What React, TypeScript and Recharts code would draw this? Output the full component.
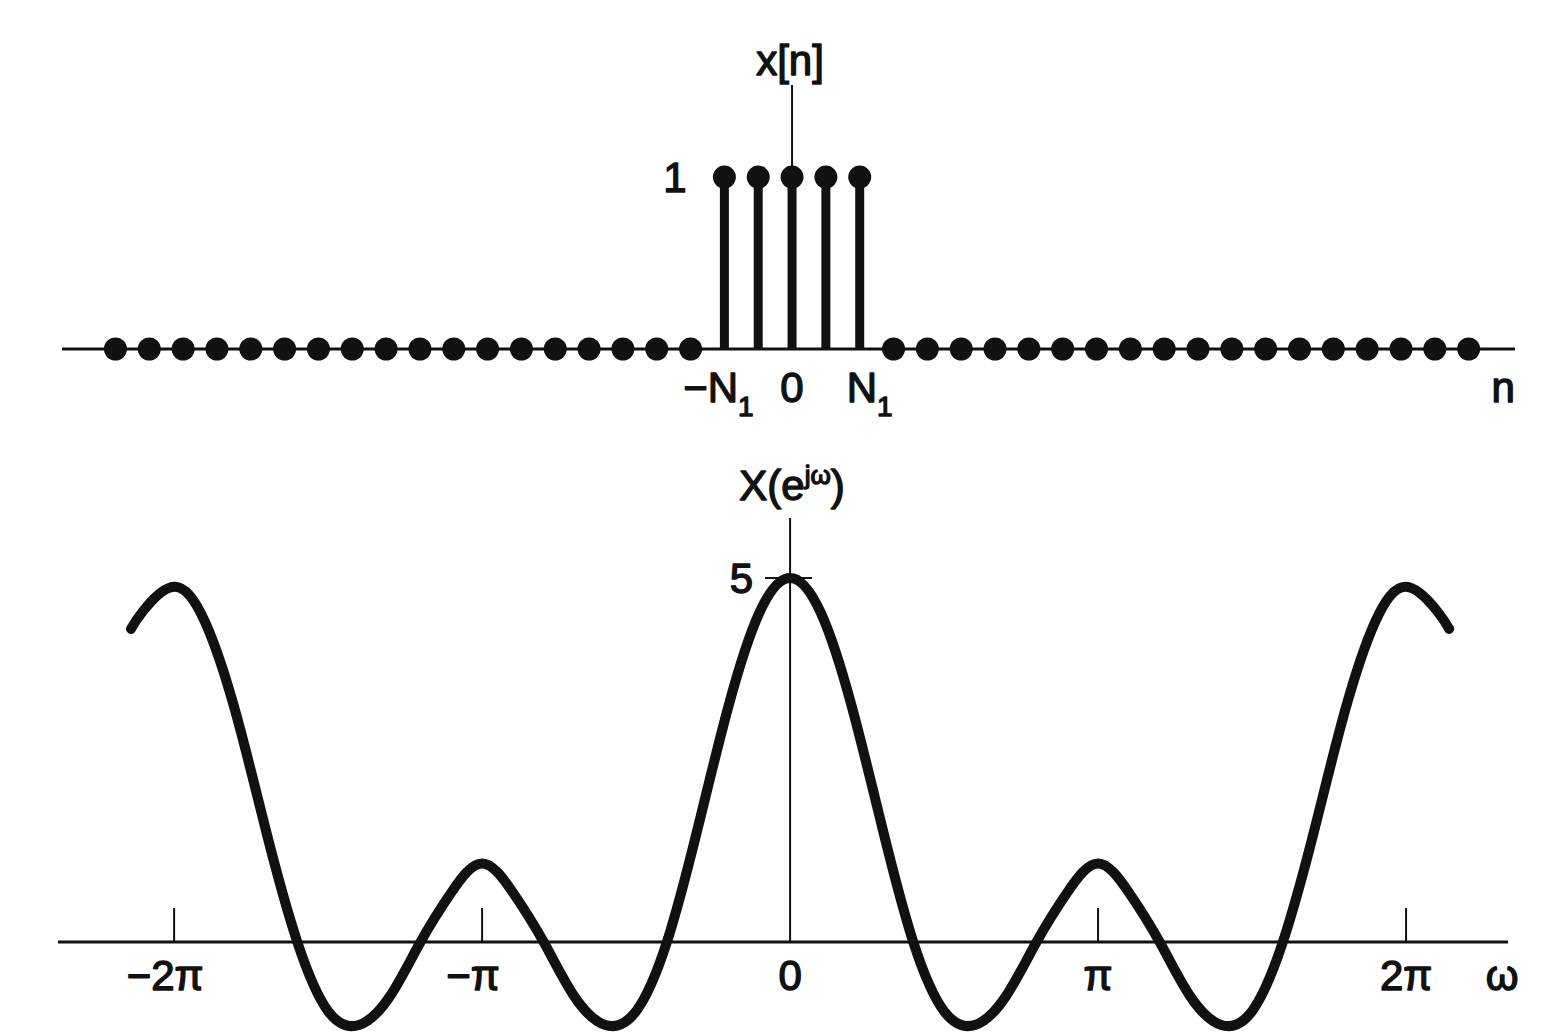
import {
  ComposedChart,
  LineChart,
  Line,
  Scatter,
  XAxis,
  YAxis,
  ReferenceLine,
  ReferenceDot,
} from 'recharts';

const FONT = '"Liberation Sans", Arial, Helvetica, sans-serif';
const INK = '#111';

// x[n]: rectangular pulse with N1 = 2
const sampleIndex = [
  -20, -19, -18, -17, -16, -15, -14, -13, -12, -11, -10, -9, -8, -7, -6, -5, -4, -3, -2, -1, 0,
  1, 2, 3, 4, 5, 6, 7, 8, 9, 10, 11, 12, 13, 14, 15, 16, 17, 18, 19, 20,
];
const pulseValues = [
  0, 0, 0, 0, 0, 0, 0, 0, 0, 0, 0, 0, 0, 0, 0, 0, 0, 0, 1, 1, 1,
  1, 1, 0, 0, 0, 0, 0, 0, 0, 0, 0, 0, 0, 0, 0, 0, 0, 0, 0, 0,
];
const pulseTicks = [-2, 0, 2];
const pulseTickLabels = [
  { main: '−N', sub: '1', dx: -6 },
  { main: '0', sub: '', dx: 0 },
  { main: 'N', sub: '1', dx: 10 },
];

// X(e^jω) read along ω/π
const omegaOverPi = [
  -2.14, -2.1, -2.0, -1.9, -1.8, -1.7, -1.6, -1.5, -1.4, -1.3, -1.2, -1.1, -1.0, -0.9, -0.8,
  -0.7, -0.6, -0.5, -0.4, -0.3, -0.2, -0.1, 0, 0.1, 0.2, 0.3, 0.4, 0.5, 0.6, 0.7, 0.8, 0.9,
  1.0, 1.1, 1.2, 1.3, 1.4, 1.5, 1.6, 1.7, 1.8, 1.9, 2.0, 2.1, 2.14,
];
const spectrumValues = [
  4.3, 4.55, 4.88, 4.4, 3.15, 1.5, 0, -0.95, -1.14, -0.75, 0, 0.68, 1.08, 0.68, 0,
  -0.75, -1.14, -0.95, 0, 1.56, 3.24, 4.52, 5, 4.52, 3.24, 1.56, 0, -0.95, -1.14, -0.75, 0, 0.68,
  1.08, 0.68, 0, -0.75, -1.14, -0.95, 0, 1.5, 3.15, 4.4, 4.88, 4.55, 4.3,
];
const omegaTicks = [-2, -1, 0, 1, 2];
const omegaTickLabels = ['−2π', '−π', '0', 'π', '2π'];
const peakValue = 5;

const pulseData = sampleIndex.map((n, i) => ({ n, v: pulseValues[i] }));
const spectrumData = omegaOverPi.map((w, i) => ({ w, X: spectrumValues[i] }));

// printed-looking labels: regular face with a thin outline to thicken the strokes
const textStyle = {
  fontFamily: FONT,
  fontSize: 42,
  fill: INK,
  stroke: INK,
  strokeWidth: 1.4,
  strokeLinejoin: 'round' as const,
};

// plain text placed relative to the centre of a reference's viewBox
const centredText =
  (text: string, dx = 0, dy = 0, anchor: 'start' | 'middle' | 'end' = 'middle') =>
  (props: any) => {
    const vb = props.viewBox || {};
    const cx = (vb.x ?? 0) + (vb.width ?? 0) / 2;
    const cy = (vb.y ?? 0) + (vb.height ?? 0) / 2;
    return (
      <text x={cx + dx} y={cy + dy} textAnchor={anchor} style={textStyle}>
        {text}
      </text>
    );
  };

const PulseTick = (props: any) => {
  const { x, y, index } = props;
  const lab = pulseTickLabels[index] || pulseTickLabels[1];
  return (
    <text x={x + lab.dx} y={y + 53} textAnchor="middle" style={textStyle}>
      {lab.main}
      {lab.sub && (
        <tspan dy={14} fontSize={28}>
          {lab.sub}
        </tspan>
      )}
    </text>
  );
};

const StemHead = (props: any) => <circle cx={props.cx} cy={props.cy} r={11.5} fill={INK} />;

const spectrumTitle = (props: any) => {
  const vb = props.viewBox || {};
  return (
    <text x={vb.x + 2} y={vb.y - 18} textAnchor="middle" style={textStyle}>
      X(e
      <tspan dy={-16} fontSize={26}>
        jω
      </tspan>
      <tspan dy={16} fontSize={42}>
        )
      </tspan>
    </text>
  );
};

const pulseTitle = (props: any) => {
  const vb = props.viewBox || {};
  return (
    <text x={vb.x - 2} y={vb.y - 10} textAnchor="middle" style={textStyle}>
      x[n]
    </text>
  );
};

const peakLabel = (props: any) => {
  const vb = props.viewBox || {};
  return (
    <text x={vb.x - 12} y={vb.y + 15} textAnchor="end" style={textStyle}>
      {peakValue}
    </text>
  );
};

export default function App() {
  return (
    <div style={{ position: 'absolute', left: 0, top: 0, width: 1560, height: 1035, background: '#fff' }}>
      <ComposedChart
        width={1560}
        height={440}
        data={pulseData}
        margin={{ top: 85, right: 45, bottom: 0, left: 62 }}
      >
        <XAxis
          type="number"
          dataKey="n"
          domain={[-21.58, 21.37]}
          ticks={pulseTicks}
          interval={0}
          tickLine={false}
          tickSize={0}
          tickMargin={0}
          height={91}
          axisLine={{ stroke: INK, strokeWidth: 3 }}
          tick={(p: any) => <PulseTick {...p} />}
        />
        <YAxis type="number" domain={[0, 1.535]} hide />
        <ReferenceLine
          segment={[{ x: 0, y: 0 }, { x: 0, y: 1.535 }]}
          stroke={INK}
          strokeWidth={2}
          label={pulseTitle}
        />
        {pulseData
          .filter((d) => d.v !== 0)
          .map((d) => (
            <ReferenceLine
              key={d.n}
              segment={[{ x: d.n, y: 0 }, { x: d.n, y: d.v }]}
              stroke={INK}
              strokeWidth={9}
            />
          ))}
        <Scatter dataKey="v" shape={StemHead} isAnimationActive={false} />
        <ReferenceDot x={-3.46} y={1} r={0} stroke="none" ifOverflow="visible" label={centredText('1', 0, 15)} />
        <ReferenceDot x={21.02} y={-0.238} r={0} stroke="none" ifOverflow="visible" label={centredText('n', 0, 12)} />
      </ComposedChart>

      <LineChart
        width={1560}
        height={595}
        data={spectrumData}
        margin={{ top: 78, right: 52, bottom: 0, left: 58 }}
      >
        <XAxis type="number" dataKey="w" domain={[-2.377, 2.331]} hide />
        <YAxis type="number" domain={[-1.277, 5.824]} hide />
        <ReferenceLine y={0} stroke={INK} strokeWidth={3} />
        <ReferenceLine
          segment={[{ x: 0, y: 0 }, { x: 0, y: 5.824 }]}
          stroke={INK}
          strokeWidth={2}
          label={spectrumTitle}
        />
        <ReferenceLine
          segment={[{ x: -0.081, y: peakValue }, { x: 0.071, y: peakValue }]}
          stroke={INK}
          strokeWidth={2}
          label={peakLabel}
        />
        {omegaTicks
          .filter((t) => t !== 0)
          .map((t) => (
            <ReferenceLine
              key={t}
              segment={[{ x: t, y: 0 }, { x: t, y: 0.467 }]}
              stroke={INK}
              strokeWidth={2}
            />
          ))}
        {omegaTicks.map((t, i) => (
          <ReferenceDot
            key={'lab' + t}
            x={t}
            y={0}
            r={0}
            stroke="none"
            ifOverflow="visible"
            label={centredText(omegaTickLabels[i], t < 0 ? -9 : 0, 48)}
          />
        ))}
        <ReferenceDot x={2.312} y={-0.52} r={0} stroke="none" ifOverflow="visible" label={centredText('ω', 0, 10)} />
        <Line
          type="natural"
          dataKey="X"
          stroke={INK}
          strokeWidth={10}
          strokeLinecap="round"
          strokeLinejoin="round"
          dot={false}
          activeDot={false}
          isAnimationActive={false}
        />
      </LineChart>
    </div>
  );
}
